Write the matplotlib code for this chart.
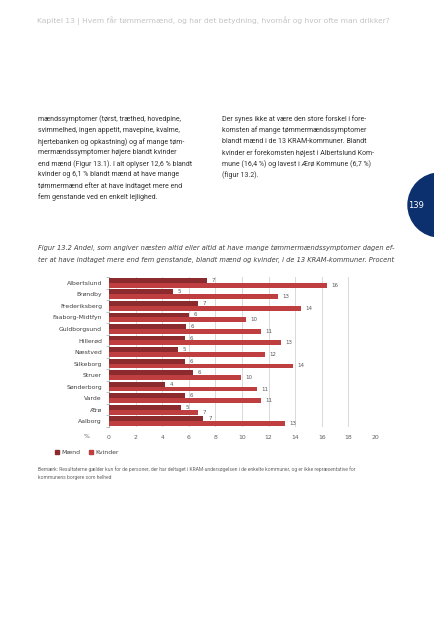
import matplotlib.pyplot as plt
import matplotlib.patches as mpatches
import numpy as np

# ---- Data ----
kommuner = ["Albertslund", "Brøndby", "Frederiksberg", "Faaborg-Midtfyn", "Guldborgsund",
            "Hillerød", "Næstved", "Silkeborg", "Struer", "Sønderborg", "Varde", "Ærø", "Aalborg"]
maend = [7.4, 4.8, 6.7, 6.0, 5.8, 5.7, 5.2, 5.7, 6.3, 4.2, 5.7, 5.4, 7.1]
kvinder = [16.4, 12.7, 14.4, 10.3, 11.4, 12.9, 11.7, 13.8, 9.9, 11.1, 11.4, 6.7, 13.2]
xticks = [0, 2, 4, 6, 8, 10, 12, 14, 16, 18, 20]

header = "Kapitel 13 | Hvem får tømmermænd, og har det betydning, hvornår og hvor ofte man drikker?"
left_col = ["mændssymptomer (tørst, træthed, hovedpine,",
            "svimmelhed, ingen appetit, mavepine, kvalme,",
            "hjertebanken og opkastning) og af mange tøm-",
            "mermændssymptomer højere blandt kvinder",
            "end mænd (Figur 13.1). I alt oplyser 12,6 % blandt",
            "kvinder og 6,1 % blandt mænd at have mange",
            "tømmermænd efter at have indtaget mere end",
            "fem genstande ved en enkelt lejlighed."]
right_col = ["Der synes ikke at være den store forskel i fore-",
             "komsten af mange tømmermændssymptomer",
             "blandt mænd i de 13 KRAM-kommuner. Blandt",
             "kvinder er forekomsten højest i Albertslund Kom-",
             "mune (16,4 %) og lavest i Ærø Kommune (6,7 %)",
             "(figur 13.2)."]
caption = ["Figur 13.2 Andel, som angiver næsten altid eller altid at have mange tømmermændssymptomer dagen ef-",
           "ter at have indtaget mere end fem genstande, blandt mænd og kvinder, i de 13 KRAM-kommuner. Procent"]
note = ["Bemærk: Resultaterne gælder kun for de personer, der har deltaget i KRAM-undersøgelsen i de enkelte kommuner, og er ikke repræsentative for",
        "kommunens borgere som helhed"]

c_maend = '#8c2b2e'
c_kvinder = '#bf3e3f'

W, H = 434, 640
fig = plt.figure(figsize=(W / 100, H / 100), dpi=100)

# ---- Page layer in pixel coordinates ----
bg = fig.add_axes([0, 0, 1, 1])
bg.set_xlim(0, W)
bg.set_ylim(H, 0)
bg.axis('off')

bg.text(213, 21, header, fontsize=5.4, color='#c4c4c4', ha='center', va='center')

for i, line in enumerate(left_col):
    bg.text(38, 119.5 + i * 11.1, line, fontsize=5.0, family='Roboto', color='#333333', va='center')
for i, line in enumerate(right_col):
    bg.text(222, 119.5 + i * 11.1, line, fontsize=5.0, family='Roboto', color='#333333', va='center')

# page number
bg.add_patch(mpatches.Circle((440, 205), 32, color='#0c2f6e', clip_on=False))
bg.text(416, 205, "139", fontsize=6, color='white', ha='center', va='center')

for i, line in enumerate(caption):
    bg.text(38, 248 + i * 12, line, fontsize=4.8, style='italic', color='#404040', va='center')

bg.text(87, 437, "%", fontsize=4.4, color='#606060', ha='center', va='center')

# legend
bg.add_patch(mpatches.Rectangle((54.5, 449.5), 4.5, 4.5, color=c_maend))
bg.text(61, 452, "Mænd", fontsize=4.4, color='#404040', va='center')
bg.add_patch(mpatches.Rectangle((88.5, 449.5), 4.5, 4.5, color=c_kvinder))
bg.text(95, 452, "Kvinder", fontsize=4.4, color='#404040', va='center')

for i, line in enumerate(note):
    bg.text(38, 469 + i * 8, line, fontsize=3.6, family='Roboto', color='#666666', va='center')

# ---- Chart ----
ax = fig.add_axes([109 / W, 1 - 427 / H, 266 / W, 150 / H])
ax.patch.set_alpha(0)

y = np.arange(len(kommuner))
h = 0.42
ax.barh(y - h / 2, maend, height=h, color=c_maend, zorder=3)
ax.barh(y + h / 2, kvinder, height=h, color=c_kvinder, zorder=3)

for yi, m, k in zip(y, maend, kvinder):
    ax.text(m + 0.35, yi - h / 2, f"{m:.0f}", fontsize=4, color='#595959', va='center')
    ax.text(k + 0.35, yi + h / 2, f"{k:.0f}", fontsize=4, color='#595959', va='center')

ax.set_xlim(0, 20)
ax.set_ylim(len(kommuner) - 0.5, -0.5)

for spine in ['top', 'right', 'bottom']:
    ax.spines[spine].set_visible(False)
ax.spines['left'].set_color('#a6a6a6')
ax.spines['left'].set_linewidth(0.6)

ax.set_xticks(xticks)
ax.set_xticklabels([str(t) for t in xticks])
ax.tick_params(axis='x', length=0, pad=6, labelsize=4.4, labelcolor='#606060')
ax.set_yticks(y)
ax.set_yticklabels(kommuner)
ax.tick_params(axis='y', which='major', length=0, pad=5, labelsize=4.4, labelcolor='#404040')
ax.set_yticks(np.arange(-0.5, len(kommuner)), minor=True)
ax.tick_params(axis='y', which='minor', length=2.5, width=0.5, color='#a6a6a6')

for t in xticks[1:]:
    ax.axvline(t, color='#d9d9d9', linewidth=0.7, zorder=1)

plt.savefig("out.png", dpi=100)
